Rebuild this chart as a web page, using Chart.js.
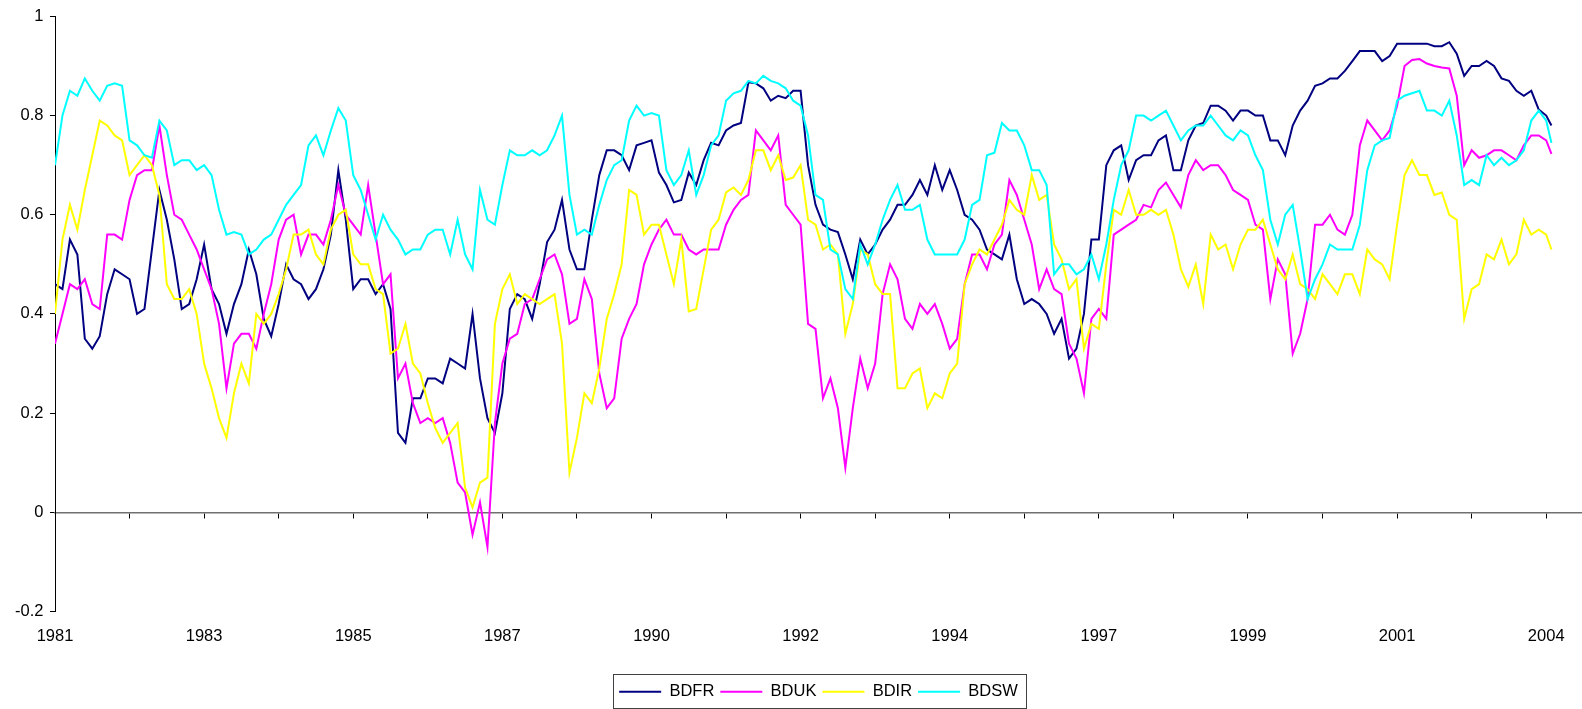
<!DOCTYPE html>
<html>
<head>
<meta charset="utf-8">
<title>BDFR, BDUK, BDIR, BDSW</title>
<style>
  html, body { margin: 0; padding: 0; background: #ffffff; }
  #wrap { width: 1582px; height: 709px; }
</style>
<script src="https://cdn.jsdelivr.net/npm/chart.js@4.4.1/dist/chart.umd.min.js"></script>
</head>
<body>
<div id="wrap"><canvas id="chart" width="1582" height="709"></canvas></div>
<script>
// Year labels shown under every second tick mark (one tick every 10 samples).
const yearLabels = ['1981', '1983', '1985', '1987', '1990', '1992', '1994', '1997', '1999', '2001', '2004'];
const yTickValues = [-0.2, 0, 0.2, 0.4, 0.6, 0.8, 1];
const seriesNames = ['BDFR', 'BDUK', 'BDIR', 'BDSW'];

// Samples are evenly spaced; the last one sits a little past the final label.
const bdfr = [
  0.46, 0.45, 0.55, 0.52, 0.35, 0.33, 0.355, 0.44, 0.49, 0.48,
  0.47, 0.40, 0.41, 0.53, 0.65, 0.59, 0.51, 0.41, 0.42, 0.47,
  0.54, 0.45, 0.42, 0.36, 0.42, 0.46, 0.53, 0.48, 0.39, 0.355,
  0.42, 0.50, 0.47, 0.46, 0.43, 0.45, 0.49, 0.56, 0.69, 0.59,
  0.45, 0.47, 0.47, 0.44, 0.46, 0.41, 0.16, 0.14, 0.23, 0.23,
  0.27, 0.27, 0.26, 0.31, 0.30, 0.29, 0.40, 0.27, 0.19, 0.16,
  0.24, 0.41, 0.44, 0.43, 0.39, 0.46, 0.545, 0.57, 0.63, 0.53,
  0.49, 0.49, 0.59, 0.68, 0.73, 0.73, 0.72, 0.69, 0.74, 0.745,
  0.75, 0.685, 0.66, 0.625, 0.63, 0.685, 0.66, 0.71, 0.745, 0.74,
  0.77, 0.78, 0.785, 0.867, 0.865, 0.855, 0.83, 0.84, 0.835, 0.85,
  0.85, 0.70, 0.62, 0.58, 0.57, 0.565, 0.52, 0.47, 0.55, 0.52,
  0.54, 0.57, 0.59, 0.62, 0.62, 0.64, 0.67, 0.64, 0.70, 0.65,
  0.69, 0.65, 0.60, 0.59, 0.57, 0.53, 0.52, 0.51, 0.56, 0.47,
  0.42, 0.43, 0.42, 0.40, 0.36, 0.39, 0.31, 0.33, 0.40, 0.55,
  0.55, 0.70, 0.73, 0.74, 0.67, 0.71, 0.72, 0.72, 0.75, 0.76,
  0.69, 0.69, 0.75, 0.78, 0.785, 0.82, 0.82, 0.81, 0.79, 0.81,
  0.81, 0.80, 0.80, 0.75, 0.75, 0.72, 0.78, 0.81, 0.83, 0.86,
  0.865, 0.875, 0.875, 0.89, 0.91, 0.93, 0.93, 0.93, 0.91, 0.92,
  0.945, 0.945, 0.945, 0.945, 0.945, 0.94, 0.94, 0.948, 0.925, 0.88,
  0.90, 0.90, 0.91, 0.90, 0.875, 0.87, 0.85, 0.84, 0.85, 0.812,
  0.80, 0.78
];
const bduk = [
  0.34, 0.40, 0.46, 0.45, 0.47, 0.42, 0.41, 0.56, 0.56, 0.55,
  0.63, 0.68, 0.69, 0.69, 0.78, 0.68, 0.60, 0.59, 0.56, 0.53,
  0.49, 0.45, 0.38, 0.25, 0.34, 0.36, 0.36, 0.33, 0.40, 0.46,
  0.55, 0.59, 0.60, 0.52, 0.56, 0.56, 0.54, 0.59, 0.66, 0.60,
  0.58, 0.56, 0.66, 0.56, 0.46, 0.48, 0.27, 0.30, 0.22, 0.18,
  0.19, 0.18, 0.19, 0.14, 0.06, 0.04, -0.045, 0.02, -0.07, 0.18,
  0.30, 0.35, 0.36, 0.42, 0.43, 0.47, 0.51, 0.52, 0.48, 0.38,
  0.39, 0.47, 0.43, 0.28, 0.21, 0.23, 0.35, 0.39, 0.42, 0.50,
  0.54, 0.57, 0.59, 0.56, 0.56, 0.53, 0.52, 0.53, 0.53, 0.53,
  0.58, 0.61, 0.63, 0.64, 0.77, 0.75, 0.73, 0.76, 0.62, 0.60,
  0.58, 0.38, 0.37, 0.23, 0.27, 0.21, 0.09, 0.21, 0.31, 0.25,
  0.30, 0.44, 0.50, 0.47, 0.39, 0.37, 0.42, 0.40, 0.42, 0.38,
  0.33, 0.35, 0.46, 0.52, 0.52, 0.49, 0.54, 0.56, 0.67, 0.64,
  0.59, 0.54, 0.45, 0.49, 0.45, 0.44, 0.34, 0.31, 0.24, 0.39,
  0.41, 0.39, 0.56, 0.57, 0.58, 0.59, 0.62, 0.615, 0.65, 0.665,
  0.64, 0.615, 0.68, 0.71, 0.69, 0.70, 0.70, 0.68, 0.65, 0.64,
  0.63, 0.58, 0.57, 0.43, 0.51, 0.48, 0.32, 0.36, 0.43, 0.58,
  0.58, 0.60, 0.57, 0.56, 0.60, 0.74, 0.79, 0.77, 0.75, 0.77,
  0.82, 0.90, 0.912, 0.914, 0.905, 0.90, 0.897, 0.895, 0.84, 0.70,
  0.73, 0.715, 0.72, 0.73, 0.73, 0.72, 0.71, 0.74, 0.76, 0.76,
  0.75, 0.723
];
const bdir = [
  0.40, 0.55, 0.62, 0.57, 0.65, 0.72, 0.79, 0.78, 0.76, 0.75,
  0.68, 0.70, 0.72, 0.70, 0.64, 0.46, 0.43, 0.43, 0.45, 0.40,
  0.30, 0.25, 0.19, 0.15, 0.24, 0.30, 0.26, 0.40, 0.38, 0.40,
  0.44, 0.49, 0.56, 0.56, 0.57, 0.52, 0.50, 0.57, 0.60, 0.61,
  0.52, 0.50, 0.50, 0.45, 0.44, 0.32, 0.33, 0.38, 0.30, 0.28,
  0.22, 0.17, 0.14, 0.16, 0.18, 0.05, 0.01, 0.06, 0.07, 0.38,
  0.45, 0.48, 0.42, 0.44, 0.43, 0.42, 0.43, 0.44, 0.34, 0.08,
  0.15, 0.24, 0.22, 0.29, 0.39, 0.44, 0.50, 0.65, 0.64, 0.56,
  0.58, 0.58, 0.52, 0.46, 0.55, 0.405, 0.41, 0.49, 0.57, 0.59,
  0.645, 0.655, 0.64, 0.67, 0.73, 0.73, 0.69, 0.72, 0.67, 0.675,
  0.70, 0.59, 0.58, 0.53, 0.54, 0.52, 0.36, 0.42, 0.53, 0.52,
  0.46, 0.44, 0.44, 0.25, 0.25, 0.28, 0.29, 0.21, 0.24, 0.23,
  0.28, 0.30, 0.46, 0.50, 0.53, 0.52, 0.55, 0.58, 0.63, 0.61,
  0.60, 0.68, 0.63, 0.64, 0.54, 0.51, 0.45, 0.47, 0.33, 0.38,
  0.37, 0.50, 0.61, 0.60, 0.65, 0.60, 0.60, 0.61, 0.60, 0.61,
  0.56, 0.49, 0.455, 0.50, 0.42, 0.56, 0.53, 0.54, 0.49, 0.54,
  0.57, 0.57, 0.59, 0.54, 0.49, 0.47, 0.52, 0.46, 0.45, 0.43,
  0.48, 0.46, 0.44, 0.48, 0.48, 0.44, 0.53, 0.51, 0.50, 0.47,
  0.58, 0.68, 0.71, 0.68, 0.68, 0.64, 0.645, 0.60, 0.59, 0.39,
  0.45, 0.46, 0.52, 0.51, 0.55, 0.50, 0.52, 0.59, 0.56, 0.57,
  0.56, 0.53
];
const bdsw = [
  0.70, 0.80, 0.85, 0.84, 0.875, 0.85, 0.83, 0.86, 0.865, 0.86,
  0.75, 0.74, 0.72, 0.715, 0.79, 0.77, 0.70, 0.71, 0.71, 0.69,
  0.70, 0.68, 0.61, 0.56, 0.565, 0.56, 0.52, 0.53, 0.55, 0.56,
  0.59, 0.62, 0.64, 0.66, 0.74, 0.76, 0.72, 0.77, 0.815, 0.79,
  0.68, 0.65, 0.60, 0.55, 0.60, 0.57, 0.55, 0.52, 0.53, 0.53,
  0.56, 0.57, 0.57, 0.52, 0.59, 0.52, 0.49, 0.65, 0.59, 0.58,
  0.66, 0.73, 0.72, 0.72, 0.73, 0.72, 0.73, 0.76, 0.80, 0.64,
  0.56, 0.57, 0.56, 0.62, 0.67, 0.70, 0.71, 0.79, 0.82, 0.80,
  0.805, 0.80, 0.69, 0.66, 0.68, 0.73, 0.64, 0.68, 0.74, 0.76,
  0.83, 0.845, 0.85, 0.87, 0.865, 0.88, 0.87, 0.865, 0.855, 0.83,
  0.82, 0.76, 0.64, 0.63, 0.53, 0.52, 0.45, 0.43, 0.54, 0.50,
  0.54, 0.59, 0.63, 0.66, 0.61, 0.61, 0.62, 0.55, 0.52, 0.52,
  0.52, 0.52, 0.55, 0.62, 0.63, 0.72, 0.725, 0.785, 0.77, 0.77,
  0.74, 0.69, 0.69, 0.66, 0.48, 0.50, 0.50, 0.48, 0.49, 0.52,
  0.47, 0.54, 0.63, 0.70, 0.73, 0.80, 0.80, 0.79, 0.80, 0.81,
  0.78, 0.75, 0.77, 0.78, 0.78, 0.80, 0.78, 0.76, 0.75, 0.77,
  0.76, 0.72, 0.69, 0.59, 0.54, 0.60, 0.62, 0.53, 0.43, 0.47,
  0.50, 0.54, 0.53, 0.53, 0.53, 0.58, 0.69, 0.74, 0.75, 0.755,
  0.83, 0.84, 0.845, 0.85, 0.81, 0.81, 0.80, 0.83, 0.76, 0.66,
  0.67, 0.66, 0.72, 0.70, 0.715, 0.70, 0.71, 0.73, 0.79, 0.81,
  0.79, 0.745
];
const seriesValues = [bdfr, bduk, bdir, bdsw];
const seriesColors = ['#000080', '#FF00FF', '#FFFF00', '#00FFFF'];

const SAMPLES_PER_TICK = 10;           // one tick mark every 10 samples
const SAMPLES_PER_LABEL = 20;          // a year label every second tick
const LAST_SAMPLE_POS = 200.7;         // final sample, just past the last label
const AXIS_END = 204.8;                // the zero line runs on to the right edge

const FONT = { family: '"Liberation Sans", Arial, Helvetica, sans-serif', size: 16.5 };

function samplePos(i, n) { return i === n - 1 ? LAST_SAMPLE_POS : i; }

const lastLabelPos = (yearLabels.length - 1) * SAMPLES_PER_LABEL;
const labelTicks = yearLabels.map((_, k) => ({ value: k * SAMPLES_PER_LABEL }));
const markTicks = [];
for (let v = 0; v <= lastLabelPos; v += SAMPLES_PER_TICK) markTicks.push({ value: v });

const datasets = seriesNames.map((name, s) => ({
  label: name,
  data: seriesValues[s].map((v, i, arr) => ({ x: samplePos(i, arr.length), y: v })),
  borderColor: seriesColors[s],
  backgroundColor: seriesColors[s],
  borderWidth: 2,
  pointRadius: 0,
  pointHoverRadius: 0,
  tension: 0,
  fill: false,
  order: seriesNames.length - s   // later series are drawn on top
}));

// Frame drawn around the legend entries.
const legendFrame = {
  id: 'legendFrame',
  afterDraw(chart) {
    const boxes = chart.legend && chart.legend.legendHitBoxes;
    if (!boxes || !boxes.length) return;
    const first = boxes[0], last = boxes[boxes.length - 1];
    const cy = first.top + first.height / 2;
    const l = Math.round(first.left - 6) + 0.5;
    const r = Math.round(last.left + last.width + 8) + 0.5;
    const t = Math.round(cy - 18) + 0.5;
    const b = Math.round(cy + 16) + 0.5;
    const ctx = chart.ctx;
    ctx.save();
    ctx.strokeStyle = '#404040';
    ctx.lineWidth = 1;
    ctx.strokeRect(l, t, r - l, b - t);
    ctx.restore();
  }
};

new Chart(document.getElementById('chart'), {
  type: 'line',
  data: { datasets },
  plugins: [legendFrame],
  options: {
    responsive: false,
    devicePixelRatio: 1,
    animation: false,
    events: [],
    layout: { padding: { top: 15, right: 0, bottom: -1, left: 0 } },
    scales: {
      x: {
        type: 'linear',
        position: 'bottom',
        min: 0,
        max: AXIS_END,
        grid: { display: false, drawTicks: false },
        border: { display: false },
        afterBuildTicks: (scale) => { scale.ticks = labelTicks.map(t => ({ ...t })); },
        afterFit: (scale) => { scale.height = 66; },
        ticks: {
          autoSkip: false,
          maxRotation: 0,
          padding: 15,
          color: '#000000',
          font: FONT,
          callback: (value) => yearLabels[Math.round(value / SAMPLES_PER_LABEL)]
        }
      },
      xZero: {
        type: 'linear',
        axis: 'x',
        position: { y: 0 },
        min: 0,
        max: AXIS_END,
        afterBuildTicks: (scale) => { scale.ticks = markTicks.map(t => ({ ...t })); },
        grid: { display: true, drawOnChartArea: false, drawTicks: true, tickLength: 5, color: '#000000', lineWidth: 1 },
        border: { display: true, color: '#707070', width: 1.5 },
        ticks: { display: false, autoSkip: false }
      },
      y: {
        type: 'linear',
        position: 'left',
        min: -0.2,
        max: 1,
        afterBuildTicks: (scale) => { scale.ticks = yTickValues.map(v => ({ value: v })); },
        afterFit: (scale) => { scale.width = 55; },
        grid: { display: true, drawOnChartArea: false, drawTicks: true, tickLength: 5, color: '#000000', lineWidth: 1 },
        border: { display: true, color: '#000000', width: 1 },
        ticks: {
          padding: 6.5,
          color: '#000000',
          font: FONT,
          callback: (value) => String(Number(value.toFixed(1)))
        }
      }
    },
    plugins: {
      title: { display: false },
      tooltip: { enabled: false },
      legend: {
        display: true,
        position: 'bottom',
        fullSize: false,
        align: 'center',
        labels: {
          usePointStyle: true,
          pointStyle: 'line',
          pointStyleWidth: 42,
          padding: 6,
          color: '#000000',
          font: FONT,
          sort: (a, b) => a.datasetIndex - b.datasetIndex
        }
      }
    }
  }
});
</script>
</body>
</html>
